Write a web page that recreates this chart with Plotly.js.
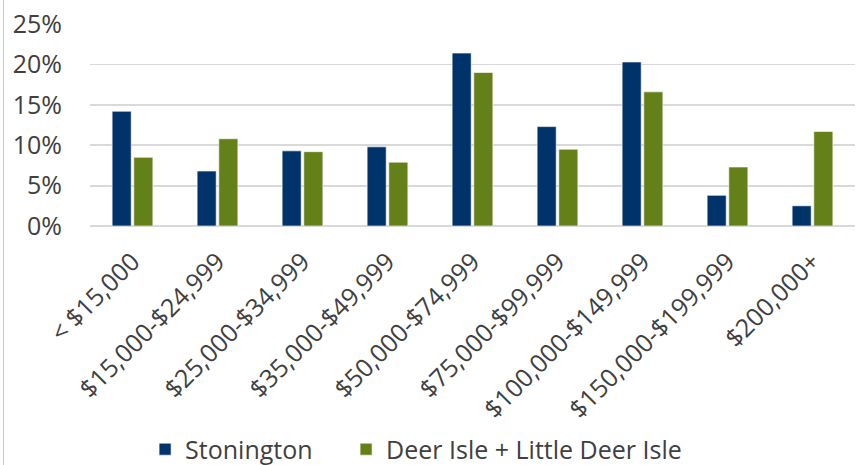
<!DOCTYPE html>
<html>
<head>
<meta charset="utf-8">
<script src="https://cdn.plot.ly/plotly-3.0.1.min.js"></script>
<style>
  html, body { margin: 0; padding: 0; background: #fff; }
  #wrap { position: relative; width: 864px; height: 465px; }
  #chart { width: 864px; height: 465px; }
  #frame { position: absolute; left: 3px; top: 0; width: 1px; height: 465px; background: #c8c8c8; }
</style>
</head>
<body>
<div id="wrap">
  <div id="chart"></div>
  <div id="frame"></div>
</div>
<script>
// Household income brackets
const incomeBrackets = [
  "< $15,000", "$15,000-$24,999", "$25,000-$34,999", "$35,000-$49,999",
  "$50,000-$74,999", "$75,000-$99,999", "$100,000-$149,999",
  "$150,000-$199,999", "$200,000+"
];

// Share of households in each bracket
const stonington = [0.142, 0.068, 0.093, 0.098, 0.214, 0.123, 0.203, 0.038, 0.025];
const deerIsle    = [0.085, 0.108, 0.092, 0.079, 0.190, 0.095, 0.166, 0.073, 0.117];

const yTicks = [0, 0.05, 0.10, 0.15, 0.20, 0.25];

const FONT = "Open Sans, Noto Sans, sans-serif";
const TEXT = "#404040";
const SIZE = 25;

const traces = [
  {
    type: "bar", name: "Stonington", x: incomeBrackets, y: stonington,
    marker: { color: "#003369", line: { color: "#ffffff", width: 0.6 } },
    legendwidth: 156,
    hoverinfo: "skip"
  },
  {
    type: "bar", name: "Deer Isle + Little Deer Isle", x: incomeBrackets, y: deerIsle,
    marker: { color: "#648019", line: { color: "#ffffff", width: 0.6 } },
    hoverinfo: "skip"
  }
];

const layout = {
  width: 864, height: 465,
  margin: { l: 90, r: 9, t: 24, b: 238.5, pad: 0, autoexpand: false },
  paper_bgcolor: "#ffffff", plot_bgcolor: "#ffffff",
  font: { family: FONT, size: SIZE, color: TEXT },
  barmode: "group",
  bargap: 0.49,
  bargroupgap: 0.12,
  showlegend: true,
  legend: {
    orientation: "h", x: 0.072, xanchor: "left", y: -1.106, yanchor: "middle",
    font: { family: FONT, size: SIZE, color: TEXT },
    itemclick: false, itemdoubleclick: false
  },
  xaxis: {
    type: "category", tickangle: -45, showgrid: false, zeroline: false,
    showline: false, ticks: "", ticklabelstandoff: 15, automargin: false,
    tickfont: { family: FONT, size: SIZE, color: TEXT }
  },
  yaxis: {
    range: [0, 0.25], tickvals: yTicks, tickformat: ".0%",
    showgrid: true, gridcolor: "#d9d9d9", gridwidth: 1.8,
    zeroline: true, zerolinecolor: "#d9d9d9", zerolinewidth: 1.8,
    showline: false, ticks: "", ticklabelstandoff: 27, automargin: false,
    tickfont: { family: FONT, size: SIZE, color: TEXT }
  }
};

Plotly.newPlot("chart", traces, layout, { staticPlot: true, displayModeBar: false });
</script>
</body>
</html>
